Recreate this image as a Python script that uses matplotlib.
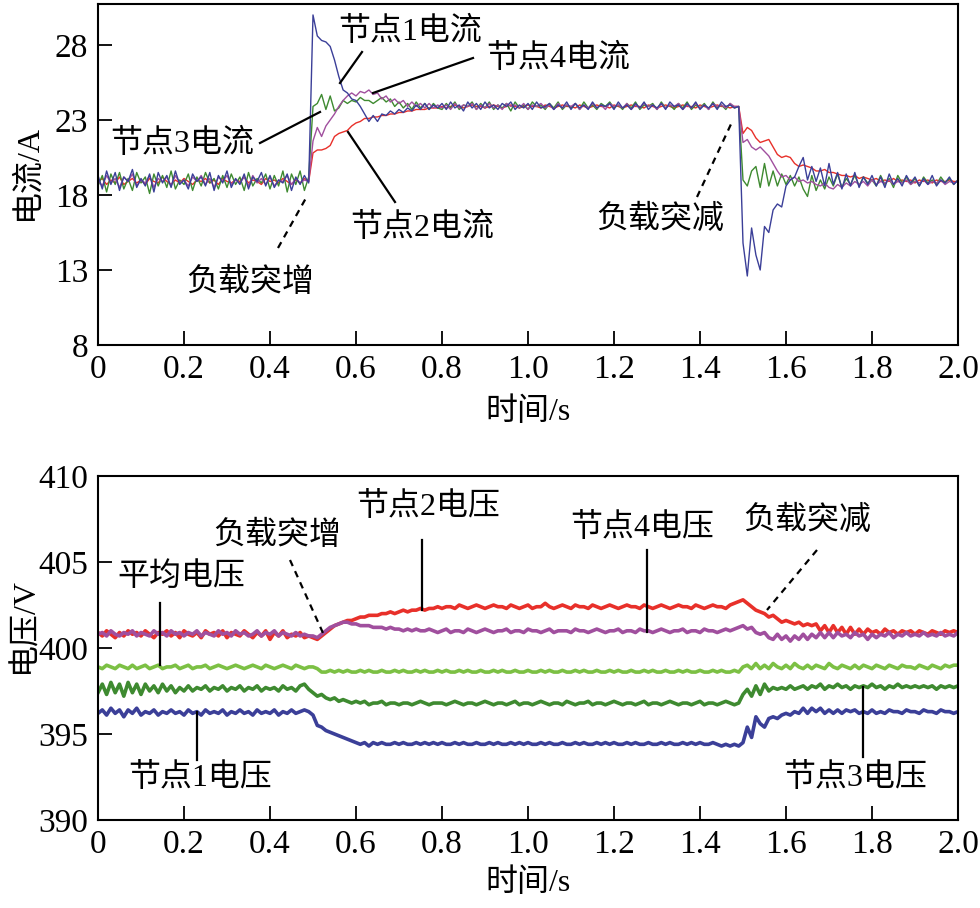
import numpy as np
import matplotlib
matplotlib.use("Agg")
import matplotlib.pyplot as plt
from matplotlib.lines import Line2D

plt.rcParams['font.family'] = ['Liberation Serif', 'Noto Sans CJK SC']
plt.rcParams['axes.unicode_minus'] = False

# ---------------- data ----------------
time_s = [round(0.01 * k, 2) for k in range(201)]
xticks = [0, 0.2, 0.4, 0.6, 0.8, 1.0, 1.2, 1.4, 1.6, 1.8, 2.0]
xtick_labels = ['0', '0.2', '0.4', '0.6', '0.8', '1.0', '1.2', '1.4', '1.6', '1.8', '2.0']
cur_yticks = [8, 13, 18, 23, 28]
volt_yticks = [390, 395, 400, 405, 410]

# node currents (A)
i_node1 = ([19.3,18.4,19.6,18.7,19.5,18.3,19.2,18.9,19.7,18.5,
            19.1,18.6,19.4,18.2,19.5,18.8,19.3,18.5,19.6,18.7,
            19.0,18.4,19.4,18.9,19.2,18.6,19.5,18.3,19.3,18.8,
            19.6,18.5,19.1,18.7,19.4,18.4,19.2,18.9,19.5,18.6,
            19.3,18.5,19.0,18.8,19.4,18.3,19.2,18.7,19.3,18.8] +
           [30.0,28.6,28.3,28.2,27.9,27.0,25.9,25.0,24.8,24.4,
            24.3,23.9,23.4,22.9,23.3,22.9,23.4,23.3,23.6,23.4,
            23.7,23.5,23.8,23.6,24.0,23.7,24.1,23.7,24.0,23.8] +
           [24.1,23.7,24.2,23.8,24.0,23.6,24.2,23.8,24.1,23.7,
            24.2,23.8,24.0,23.7,24.1,23.9,24.2,23.7,24.0,23.8,
            24.1,23.7,24.2,23.8,23.9,24.1,23.7,24.0,23.8,24.2,
            23.7,24.1,23.8,24.0,23.7,24.2,23.8,24.0,23.9,24.1,
            23.7,24.2,23.8,24.0,23.7,24.1,23.8,24.2,23.7,24.0,
            23.8,24.1,23.7,24.2,23.9,24.0,23.7,24.1,23.8,24.2,
            23.7,24.0,23.8,24.1,23.7,24.2,23.9,24.0,23.8,23.9] +
           [14.8,12.6,15.8,14.0,13.0,15.9,15.5,17.0,17.4,17.2,
            18.6,19.0,19.2,19.9,20.5,19.0,19.9,18.9,19.8,18.6,
            20.1,18.7,19.5,18.4,19.4,18.6,19.5,18.5,19.2,18.7,
            19.3,18.6,19.2,18.5,19.4,18.7,19.1,18.6,19.3,18.8,
            19.2,18.6,19.1,18.7,19.3,18.6,19.0,18.8,19.2,18.7,19.0])

i_node2 = ([18.9,19.1,18.7,19.0,18.8,19.2,18.7,18.9,19.1,18.8,
            19.0,18.7,19.1,18.9,18.8,19.2,18.9,18.7,19.0,18.8,
            19.1,18.9,18.7,19.0,18.9,19.1,18.8,19.0,18.7,19.1,
            18.9,18.8,19.0,18.9,19.2,18.8,19.0,18.9,18.7,19.1,
            18.9,19.0,18.8,19.1,18.9,18.7,19.0,18.8,19.1,18.9] +
           [20.8,21.0,21.0,21.1,21.3,21.9,22.1,22.2,22.3,22.6,
            22.8,22.9,23.1,23.1,23.2,23.2,23.3,23.3,23.4,23.4,
            23.5,23.5,23.6,23.6,23.7,23.7,23.7,23.8,23.8,23.8] +
           [23.9,23.8,23.9,24.0,23.9,23.8,23.9,24.0,23.9,23.9,
            23.8,23.9,24.0,23.9,23.8,23.9,24.0,23.9,23.8,23.9,
            24.0,23.9,23.9,23.8,24.0,23.9,23.8,23.9,24.0,23.9,
            23.9,23.8,24.0,23.9,23.8,23.9,24.0,23.9,23.9,23.8,
            24.0,23.9,23.8,23.9,24.0,23.9,23.9,23.8,24.0,23.9,
            23.8,23.9,24.0,23.9,23.8,23.9,24.0,23.9,23.9,23.8,
            24.0,23.9,23.8,23.9,24.0,23.9,23.9,23.8,23.9,23.9] +
           [22.1,22.5,22.3,21.8,21.5,21.6,21.7,21.2,20.7,20.5,
            20.6,20.5,20.1,19.9,20.0,19.9,19.8,19.6,19.6,19.7,
            19.5,19.5,19.4,19.3,19.3,19.2,19.3,19.1,19.2,19.1,
            19.0,19.1,18.9,19.0,18.9,19.1,18.9,19.0,18.9,19.0,
            18.8,19.0,18.9,19.0,18.8,19.0,18.9,18.9,19.0,18.9,18.9])

i_node3 = ([18.6,19.3,18.2,19.4,18.7,19.5,18.4,19.1,18.3,19.5,
            18.8,19.2,18.1,19.4,18.6,19.3,18.5,19.6,18.4,19.0,
            18.7,19.4,18.3,19.2,18.6,19.5,18.8,19.1,18.4,19.3,
            18.5,19.4,18.7,19.2,18.3,19.5,18.6,19.1,18.8,19.4,
            18.4,19.3,18.6,19.6,18.2,19.4,18.7,19.6,18.3,19.2] +
           [23.9,24.1,24.7,23.7,24.6,23.6,23.8,24.3,24.1,24.3,
            24.2,24.5,24.3,24.3,24.1,24.3,24.5,24.2,24.4,23.9,
            24.2,23.8,24.1,23.7,24.2,23.8,24.1,23.7,24.1,23.8] +
           [23.7,24.1,23.8,24.2,23.7,24.0,23.9,24.2,23.7,24.1,
            23.8,24.2,23.7,24.0,23.8,24.1,23.6,24.2,23.8,24.0,
            23.7,24.2,23.9,24.0,23.7,24.1,23.8,24.2,23.7,24.0,
            23.8,24.1,23.7,24.2,23.8,24.0,23.7,24.1,23.9,24.2,
            23.8,24.0,23.7,24.1,23.8,24.2,23.7,24.0,23.9,24.1,
            23.7,24.2,23.8,24.0,23.7,24.1,23.8,24.2,23.7,24.0,
            23.8,24.1,23.7,24.2,23.8,24.0,23.7,24.1,23.8,23.9] +
           [19.0,18.6,19.6,19.9,18.5,20.1,18.6,19.6,18.6,19.4,
            18.7,19.3,18.6,19.2,18.4,17.9,19.3,18.3,19.0,18.4,
            19.2,18.6,19.4,18.5,19.1,18.7,19.3,18.6,19.2,18.8,
            19.0,18.6,19.3,18.7,19.1,18.5,19.3,18.8,19.2,18.7,
            19.1,18.6,19.2,18.8,19.0,18.7,19.2,18.8,19.1,18.7,19.0])

i_node4 = ([19.0,18.6,19.3,18.8,19.1,18.5,19.2,18.9,19.4,18.6,
            19.0,18.8,19.3,18.5,19.1,18.9,19.2,18.6,19.3,18.8,
            19.0,18.6,19.2,18.9,19.3,18.7,19.1,18.5,19.2,18.9,
            19.3,18.7,19.0,18.8,19.2,18.6,19.3,18.8,19.1,18.7,
            19.2,18.6,19.0,18.9,19.3,18.7,19.1,18.8,19.0,18.9] +
           [21.6,22.5,21.9,22.6,23.0,23.4,23.9,24.3,24.6,24.8,
            24.6,24.9,24.8,25.0,24.7,24.8,24.4,24.6,24.2,24.4,
            24.1,24.3,23.9,24.2,23.9,24.1,23.8,24.1,23.8,24.0] +
           [23.8,24.0,23.7,24.1,23.8,24.0,23.9,24.1,23.7,24.0,
            23.8,24.1,23.8,24.0,23.7,24.1,23.9,24.0,23.8,24.1,
            23.7,24.0,23.9,24.1,23.8,24.0,23.7,24.1,23.8,24.0,
            23.9,24.1,23.7,24.0,23.8,24.1,23.8,24.0,23.7,24.1,
            23.9,24.0,23.8,24.1,23.7,24.0,23.8,24.1,23.9,24.0,
            23.7,24.1,23.8,24.0,23.9,24.1,23.7,24.0,23.8,24.1,
            23.8,24.0,23.7,24.1,23.9,24.0,23.8,24.1,23.9,23.9] +
           [21.5,21.7,21.2,21.0,21.2,20.9,20.6,20.1,19.6,19.2,
            19.3,19.0,19.2,18.9,19.0,18.8,18.9,18.7,18.6,18.8,
            18.5,18.4,18.7,18.5,18.8,18.6,18.9,18.7,18.9,18.6,
            19.0,18.7,18.9,18.8,19.0,18.7,18.9,18.8,19.0,18.7,
            18.9,18.8,19.0,18.7,18.9,18.8,19.0,18.7,18.9,18.8,18.9])

# node voltages (V)
v_node1 = ([396.2,396.4,396.1,396.5,396.2,396.4,396.0,396.4,396.2,396.5,
            396.1,396.3,396.2,396.4,396.1,396.3,396.2,396.4,396.2,396.3,
            396.1,396.4,396.2,396.3,396.1,396.4,396.2,396.3,396.2,396.4,
            396.1,396.3,396.2,396.4,396.2,396.3,396.1,396.4,396.2,396.3,
            396.2,396.4,396.1,396.3,396.2,396.4,396.2,396.3,396.4,396.3] +
           [396.1,395.5,395.4,395.2,395.1,395.0,394.9,394.8,394.7,394.6,
            394.5,394.4,394.5,394.3,394.5,394.4,394.5,394.4,394.4,394.5,
            394.4,394.5,394.4,394.4,394.5,394.4,394.5,394.4,394.5,394.4] +
           [394.5,394.4,394.4,394.5,394.4,394.5,394.4,394.4,394.5,394.4,
            394.4,394.5,394.4,394.5,394.4,394.4,394.5,394.4,394.5,394.4,
            394.5,394.4,394.4,394.5,394.4,394.5,394.4,394.4,394.5,394.4,
            394.4,394.5,394.4,394.5,394.4,394.4,394.5,394.4,394.5,394.4,
            394.5,394.4,394.4,394.5,394.4,394.5,394.4,394.4,394.5,394.4,
            394.4,394.5,394.4,394.5,394.4,394.4,394.5,394.4,394.5,394.4,
            394.5,394.4,394.4,394.5,394.4,394.3,394.4,394.3,394.4,394.3] +
           [394.5,395.4,394.8,396.0,395.6,395.4,395.9,396.0,395.9,396.1,
            396.2,396.1,396.3,396.2,396.5,396.2,396.5,396.3,396.5,396.2,
            396.4,396.2,396.4,396.2,396.4,396.3,396.4,396.2,396.3,396.2,
            396.4,396.2,396.3,396.2,396.4,396.3,396.3,396.2,396.4,396.3,
            396.3,396.2,396.4,396.3,396.3,396.2,396.4,396.3,396.3,396.2,396.3])

v_node2 = ([400.9,400.7,401.0,400.8,400.6,400.9,400.7,401.0,400.8,400.9,
            400.7,401.0,400.8,400.6,400.9,400.8,401.0,400.7,400.9,400.6,
            401.0,400.8,400.7,400.9,400.6,401.0,400.8,400.9,400.7,401.0,
            400.6,400.9,400.8,400.7,401.0,400.8,400.6,400.9,400.7,401.0,
            400.5,400.9,400.7,401.0,400.6,400.8,400.7,400.9,400.6,400.7] +
           [400.6,400.5,400.7,400.9,401.1,401.3,401.4,401.5,401.6,401.6,
            401.7,401.8,401.8,401.9,401.9,401.9,402.0,402.0,402.1,402.0,
            402.1,402.2,402.1,402.2,402.2,402.3,402.2,402.3,402.3,402.4] +
           [402.3,402.4,402.4,402.3,402.5,402.4,402.3,402.4,402.5,402.4,
            402.3,402.4,402.5,402.4,402.4,402.3,402.5,402.4,402.3,402.4,
            402.5,402.3,402.4,402.4,402.6,402.4,402.3,402.4,402.5,402.4,
            402.3,402.5,402.4,402.4,402.3,402.5,402.4,402.3,402.4,402.5,
            402.4,402.3,402.4,402.5,402.4,402.4,402.3,402.5,402.4,402.3,
            402.4,402.5,402.4,402.3,402.4,402.5,402.4,402.4,402.3,402.5,
            402.4,402.3,402.4,402.5,402.4,402.4,402.3,402.5,402.6,402.7] +
           [402.8,402.6,402.4,402.2,402.1,402.0,401.8,401.9,401.7,401.5,
            401.6,401.5,401.4,401.5,401.3,401.4,401.3,401.4,401.0,401.3,
            400.9,401.3,400.9,401.2,400.8,401.2,400.8,401.1,400.8,401.1,
            400.9,401.0,400.8,401.1,400.9,401.0,400.8,401.0,400.9,401.0,
            400.8,401.0,400.9,400.8,401.0,400.9,400.8,401.0,400.9,401.0,400.9])

v_node3 = ([397.4,397.9,397.3,398.0,397.4,397.9,397.2,398.0,397.4,397.9,
            397.3,397.9,397.5,397.8,397.4,397.9,397.5,397.8,397.4,397.7,
            397.5,397.8,397.5,397.7,397.6,397.8,397.5,397.7,397.6,397.8,
            397.5,397.7,397.6,397.8,397.5,397.7,397.6,397.8,397.5,397.7,
            397.6,397.7,397.5,397.8,397.6,397.7,397.5,397.8,397.9,397.6] +
           [397.4,397.2,397.3,397.1,397.0,397.1,396.9,397.0,396.9,396.8,
            396.9,396.8,396.9,396.7,396.8,396.8,396.9,396.7,396.8,396.8,
            396.7,396.8,396.8,396.7,396.8,396.9,396.8,396.7,396.8,396.8] +
           [396.8,396.7,396.8,396.9,396.8,396.7,396.8,396.8,396.7,396.8,
            396.9,396.8,396.7,396.8,396.8,396.7,396.8,396.9,396.7,396.8,
            396.8,396.7,396.8,396.9,396.8,396.7,396.8,396.8,396.7,396.9,
            396.8,396.7,396.8,396.8,396.9,396.7,396.8,396.8,396.7,396.8,
            396.9,396.8,396.7,396.8,396.8,396.7,396.8,396.9,396.7,396.8,
            396.8,396.7,396.8,396.9,396.8,396.7,396.8,396.8,396.7,396.8,
            396.9,396.7,396.8,396.8,396.7,396.8,396.9,396.8,396.7,396.8] +
           [397.3,397.6,397.2,397.8,397.3,397.9,397.5,397.7,397.6,397.7,
            397.6,397.8,397.6,397.7,397.8,397.6,397.8,397.7,397.9,397.6,
            397.8,397.7,397.9,397.7,397.8,397.6,397.8,397.7,397.8,397.7,
            397.9,397.7,397.8,397.6,397.8,397.7,397.9,397.7,397.8,397.7,
            397.8,397.7,397.8,397.7,397.8,397.6,397.8,397.7,397.8,397.7,397.8])

v_node4 = ([400.8,400.9,400.7,401.0,400.8,400.7,400.9,400.8,401.0,400.7,
            400.9,400.8,400.7,401.0,400.8,400.9,400.7,401.0,400.8,400.9,
            400.7,400.9,400.8,401.0,400.7,400.9,400.8,400.7,401.0,400.8,
            400.9,400.7,401.0,400.8,400.9,400.7,400.8,401.0,400.7,400.9,
            400.8,401.0,400.7,400.9,400.8,400.7,400.9,400.7,400.8,400.7] +
           [400.7,400.6,400.8,401.0,401.2,401.3,401.4,401.5,401.5,401.4,
            401.4,401.3,401.3,401.3,401.2,401.2,401.2,401.1,401.2,401.1,
            401.1,401.0,401.1,401.0,401.1,401.0,401.0,401.1,401.0,400.9] +
           [401.0,401.1,400.9,401.0,401.0,400.9,401.1,401.0,400.9,401.0,
            401.1,401.0,400.9,401.0,401.0,401.1,400.9,401.0,401.0,400.9,
            401.1,401.0,401.0,400.9,401.0,401.1,400.9,401.0,401.0,401.0,
            400.9,401.1,401.0,401.0,400.9,401.0,401.1,401.0,400.9,401.0,
            401.0,401.1,400.9,401.0,401.0,400.9,401.1,401.0,401.0,400.9,
            401.0,401.1,401.0,400.9,401.0,401.0,401.1,400.9,401.0,401.0,
            400.9,401.1,401.0,401.0,400.9,401.0,401.1,401.0,401.1,401.2] +
           [401.3,401.1,401.2,400.9,400.8,400.9,400.6,400.5,400.8,400.5,
            400.7,400.4,400.7,400.5,400.8,400.5,400.8,400.6,400.9,400.6,
            400.9,400.6,400.9,400.7,400.8,400.6,400.9,400.7,400.8,400.5,
            400.8,400.6,400.8,400.7,400.9,400.6,400.8,400.7,400.9,400.7,
            400.8,400.7,400.9,400.7,400.8,400.7,400.9,400.7,400.8,400.7,400.9])

v_avg = ([398.9,398.8,399.0,398.9,398.8,399.0,398.9,398.8,399.0,398.8,
          398.9,399.0,398.8,398.9,399.0,398.8,398.9,398.9,399.0,398.8,
          398.9,399.0,398.8,398.9,398.9,399.0,398.8,398.9,399.0,398.9,
          398.8,398.9,399.0,398.9,398.8,398.9,399.0,398.9,398.8,399.0,
          398.9,398.8,398.9,399.0,398.9,398.8,399.0,398.9,398.8,398.9] +
         [398.9,398.8,398.6,398.6,398.7,398.6,398.7,398.6,398.7,398.6,
          398.6,398.7,398.6,398.7,398.6,398.6,398.7,398.6,398.6,398.7,
          398.6,398.7,398.6,398.6,398.7,398.6,398.7,398.6,398.6,398.7] +
         [398.6,398.7,398.6,398.6,398.7,398.6,398.7,398.6,398.6,398.7,
          398.6,398.6,398.7,398.6,398.7,398.6,398.6,398.7,398.6,398.6,
          398.7,398.6,398.6,398.7,398.6,398.7,398.6,398.6,398.7,398.6,
          398.6,398.7,398.6,398.7,398.6,398.6,398.7,398.6,398.6,398.7,
          398.6,398.7,398.6,398.6,398.7,398.6,398.6,398.7,398.6,398.7,
          398.6,398.6,398.7,398.6,398.6,398.7,398.6,398.7,398.6,398.6,
          398.7,398.6,398.6,398.7,398.6,398.7,398.6,398.6,398.7,398.6] +
         [398.9,399.0,398.8,399.1,398.8,399.0,398.8,399.1,398.9,398.8,
          399.0,398.8,399.1,398.9,398.8,399.0,398.8,399.0,398.9,398.8,
          399.1,398.9,398.8,399.0,398.9,398.8,399.0,398.8,399.0,398.9,
          398.8,399.0,398.9,398.8,399.0,398.9,398.8,399.0,398.9,398.9,
          398.8,399.0,398.9,398.8,399.0,398.9,398.8,399.0,398.9,399.0,399.0])

for _s in (i_node1, i_node2, i_node3, i_node4, v_node1, v_node2, v_node3, v_node4, v_avg):
    assert len(_s) == len(time_s), len(_s)

# ---------------- figure ----------------
W, H = 980, 908
fig = plt.figure(figsize=(W / 100, H / 100), dpi=100)

def fx(x):
    return x / W

def fy(y):
    return 1 - y / H

ax1 = fig.add_axes([fx(98), fy(345), (958 - 98) / W, (345 - 4) / H])
ax2 = fig.add_axes([fx(98), fy(820), (958 - 98) / W, (820 - 476) / H])

c_blue = '#3b3f98'
c_red = '#e8302a'
c_green = '#3e8a30'
c_purple = '#a04f9e'
c_lgreen = '#7cc044'

lw1 = 1.0
ax1.plot(time_s, i_node2, color=c_red, lw=lw1)
ax1.plot(time_s, i_node3, color=c_green, lw=lw1)
ax1.plot(time_s, i_node4, color=c_purple, lw=lw1)
ax1.plot(time_s, i_node1, color=c_blue, lw=lw1)
ax1.set_ylim(8, 30.73)
ax1.set_yticks(cur_yticks)

lw2 = 2.6
ax2.plot(time_s, v_node1, color=c_blue, lw=lw2)
ax2.plot(time_s, v_node3, color=c_green, lw=lw2)
ax2.plot(time_s, v_avg, color=c_lgreen, lw=lw2)
ax2.plot(time_s, v_node2, color=c_red, lw=lw2)
ax2.plot(time_s, v_node4, color=c_purple, lw=lw2)
ax2.set_ylim(390, 410)
ax2.set_yticks(volt_yticks)

for ax in (ax1, ax2):
    ax.set_xlim(0, 2.0)
    ax.set_xticks(xticks)
    ax.set_xticklabels(xtick_labels)
    ax.tick_params(direction='in', length=10, width=1.3, labelsize=24, pad=7,
                   top=False, right=False)
    for sp in ax.spines.values():
        sp.set_linewidth(1.5)

cjk = 23
fig.text(fx(528), fy(412), '时间/s', fontsize=cjk, ha='center', va='center')
fig.text(fx(528), fy(883), '时间/s', fontsize=cjk, ha='center', va='center')
fig.text(fx(28), fy(172), '电流/A', fontsize=cjk, ha='center', va='center', rotation=90)
fig.text(fx(25), fy(625), '电压/V', fontsize=cjk, ha='center', va='center', rotation=90)

labels = [
    ('节点1电流', 410, 32), ('节点4电流', 558, 59), ('节点3电流', 182, 144),
    ('节点2电流', 422, 228), ('负载突增', 250, 283), ('负载突减', 660, 220),
    ('节点2电压', 428, 507), ('节点4电压', 642, 528), ('负载突减', 807, 521),
    ('负载突增', 277, 536), ('平均电压', 181, 577), ('节点1电压', 200, 778),
    ('节点3电压', 855, 778),
]
for s, x, y in labels:
    fig.text(fx(x), fy(y), s, fontsize=cjk, ha='center', va='center')

leaders = [
    ((340, 83), (362, 52), '-'), ((373, 93), (473, 58), '-'),
    ((260, 143), (320, 112), '-'), ((348, 132), (395, 202), '-'),
    ((278, 248), (306, 198), '--'), ((697, 197), (732, 122), '--'),
    ((422, 540), (422, 610), '-'), ((647, 550), (647, 632), '-'),
    ((817, 550), (767, 610), '--'), ((290, 560), (323, 633), '--'),
    ((160, 603), (160, 665), '-'), ((197, 712), (197, 760), '-'),
    ((863, 687), (863, 757), '-'),
]
for (x0, y0), (x1, y1), ls in leaders:
    fig.add_artist(Line2D([fx(x0), fx(x1)], [fy(y0), fy(y1)], color='black',
                          lw=1.6, ls=ls, dashes=(3, 2.5) if ls == '--' else (None, None),
                          transform=fig.transFigure))

fig.savefig('out.png', dpi=100)
